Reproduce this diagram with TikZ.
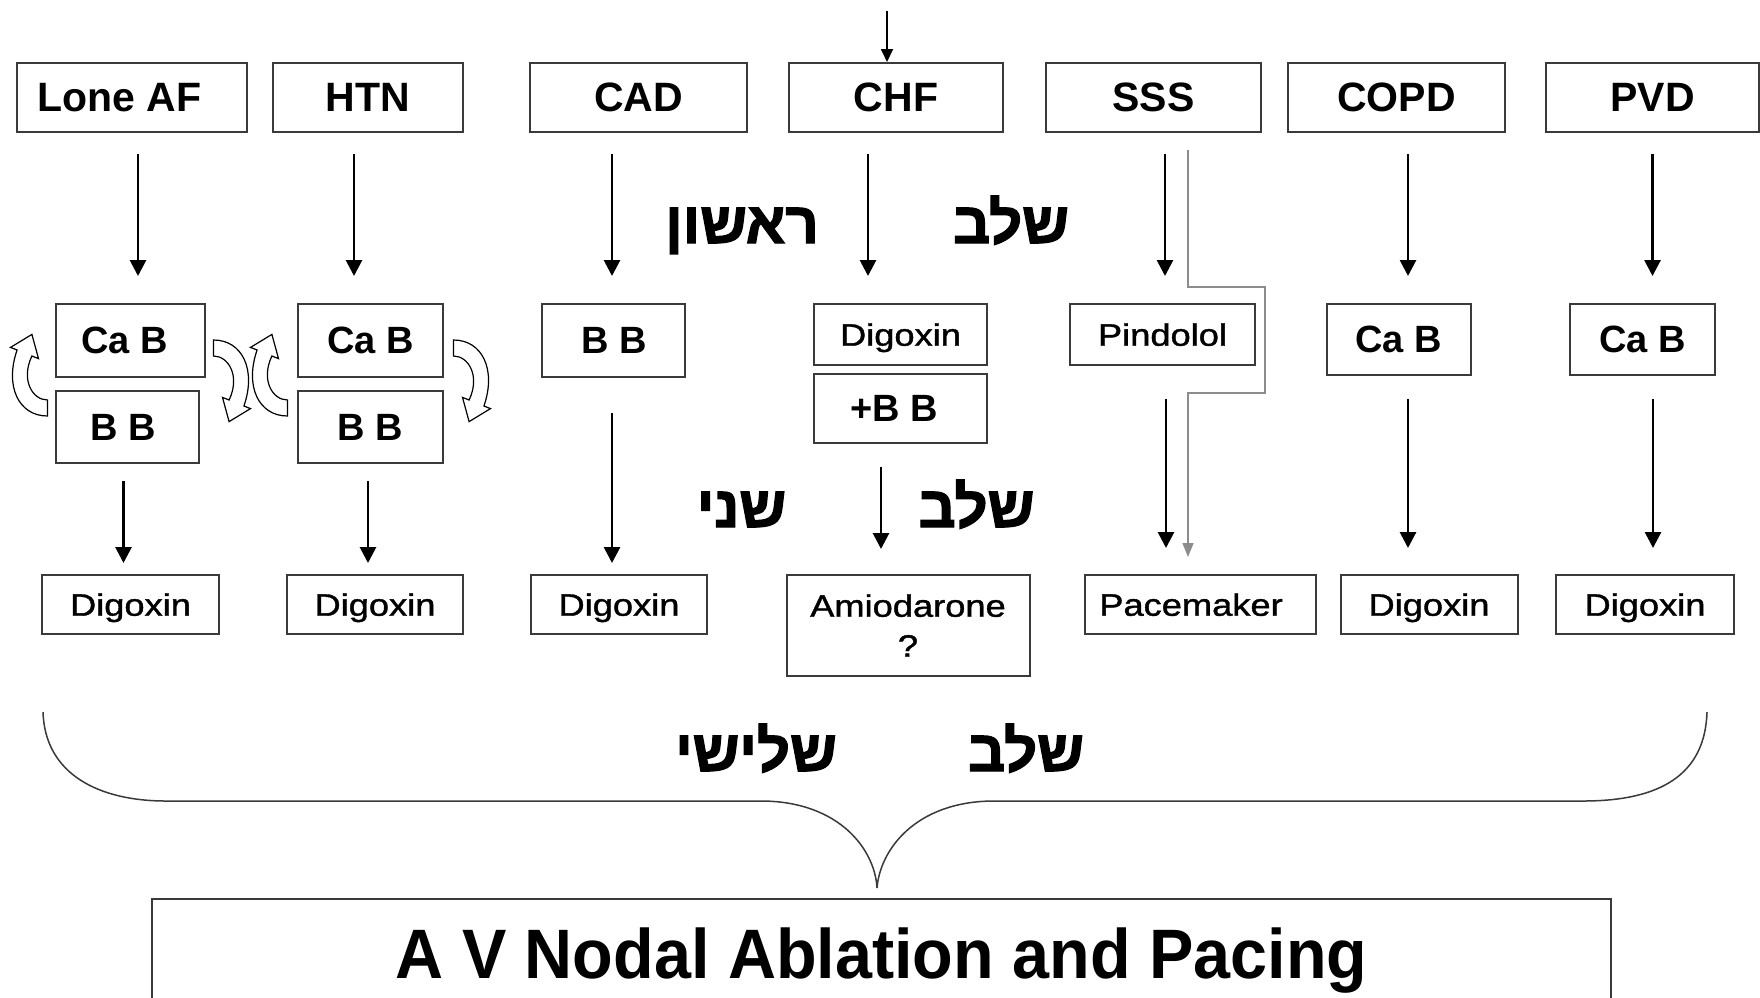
\documentclass[tikz,border=0pt]{standalone}
\usepackage{fontspec}
\setmainfont{Liberation Sans}
\newfontfamily\labelfont[FakeStretch=1.17, FakeBold=1.3]{Liberation Sans}
\newfontfamily\titlefont[FakeStretch=0.95]{Liberation Sans}
\newfontfamily\hebfont[Script=Hebrew, BoldFeatures={FakeBold=2.2}]{Liberation Sans}
\TeXXeTstate=1
\usetikzlibrary{arrows.meta}

\definecolor{boxgray}{HTML}{3A3A3A}
\definecolor{bypassgray}{HTML}{8C8C8C}

\tikzset{
  box/.style={draw=boxgray, line width=2pt, inner sep=0pt, text depth=0pt},
  topbox/.style={box, minimum height=69pt, font=\bfseries\fontsize{41}{48}\selectfont},
  drugbox/.style={box, font=\bfseries\fontsize{38}{44}\selectfont},
  smallbox/.style={box, font=\labelfont\fontsize{31}{40}\selectfont},
  heb/.style={anchor=base, inner sep=0pt, font=\hebfont\bfseries\fontsize{58}{64}\selectfont},
  arr/.style={-{Triangle[length=16pt,width=16pt]}, line width=2.8pt},
  turnarrow/.pic={
    \draw[line width=1.2pt, fill=white] (-83,22) -- (-83,38)
      .. controls (-112,38) and (-126,8) .. (-113.4,-28) -- (-120,-30.6)
      -- (-98.6,-43.6) -- (-92,-19.4) -- (-98.6,-22)
      .. controls (-110,2) and (-98,22) .. (-83,22) -- cycle;
  }
}

\begin{document}
\begin{tikzpicture}[x=1pt, y=-1pt]
  \useasboundingbox (0,0) rectangle (1760,997);
  \fill[white] (0,0) rectangle (1760,997);

  % diagnoses
  \node[topbox, minimum width=230pt] (lone) at (132,97.5) {Lone AF\hspace*{25pt}};
  \node[topbox, minimum width=190pt] (htn) at (368,97.5) {HTN};
  \node[topbox, minimum width=217pt] (cad) at (638.5,97.5) {CAD};
  \node[topbox, minimum width=214pt] (chf) at (896,97.5) {CHF};
  \node[topbox, minimum width=215pt] (sss) at (1153.5,97.5) {SSS};
  \node[topbox, minimum width=217pt] (copd) at (1396.5,97.5) {COPD};
  \node[topbox, minimum width=213pt] (pvd) at (1652.5,97.5) {PVD};

  % first line drugs
  \node[drugbox, minimum width=149pt, minimum height=73pt] (cab1) at (130.5,340.5) {Ca B\hspace*{12pt}};
  \node[drugbox, minimum width=143pt, minimum height=72pt] (bb1) at (127.5,427) {B B\hspace*{8pt}};
  \node[drugbox, minimum width=145pt, minimum height=73pt] (cab2) at (370.5,340.5) {Ca B};
  \node[drugbox, minimum width=145pt, minimum height=72pt] (bb2) at (370.5,427) {B B};
  \node[drugbox, minimum width=143pt, minimum height=73pt] (bb3) at (613.75,340.5) {B B};
  \node[smallbox, minimum width=173pt, minimum height=61pt] (dig4) at (900.5,334.5) {Digoxin};
  \node[drugbox, minimum width=173pt, minimum height=69pt] (plusbb) at (900.5,408.5) {+B B\hspace*{12pt}};
  \node[smallbox, minimum width=185pt, minimum height=61pt] (pind) at (1162.5,334.5) {Pindolol};
  \node[drugbox, minimum width=144pt, minimum height=71pt] (cab3) at (1398.6,339.5) {Ca B};
  \node[drugbox, minimum width=145pt, minimum height=71pt] (cab4) at (1642.5,339.5) {Ca B};

  % second line
  \node[smallbox, minimum width=177pt, minimum height=59pt] (dig1) at (130.5,604.5) {Digoxin};
  \node[smallbox, minimum width=176pt, minimum height=59pt] (dig2) at (375,604.5) {Digoxin};
  \node[smallbox, minimum width=176pt, minimum height=59pt] (dig3) at (619,604.5) {Digoxin};
  \node[smallbox, minimum width=243pt, minimum height=101pt, align=center] (amio) at (908,625.5) {Amiodarone\\?};
  \node[smallbox, minimum width=231pt, minimum height=59pt] (pace) at (1200,604.5) {Pacemaker\hspace*{18pt}};
  \node[smallbox, minimum width=177pt, minimum height=59pt] (dig6) at (1429,604.5) {Digoxin};
  \node[smallbox, minimum width=178pt, minimum height=59pt] (dig7) at (1645,604.5) {Digoxin};

  % last step
  \node[box, minimum width=1459pt, minimum height=108pt, anchor=north,
    font=\titlefont\bfseries\fontsize{70}{80}\selectfont] (avn) at (881.5,898) {A V Nodal Ablation and Pacing};

  % stages
  \node[heb] (first) at (742,243) {\beginR ראשון\endR};
  \node[heb] (stage1) at (1011,243) {\beginR שלב\endR};
  \node[heb] (second) at (741.5,527) {\beginR שני\endR};
  \node[heb] (stage2) at (976.5,527) {\beginR שלב\endR};
  \node[heb] (third) at (756,771) {\beginR שלישי\endR};
  \node[heb] (stage3) at (1026,771) {\beginR שלב\endR};

  % switching between Ca B and B B
  \pic at (cab1.south) {turnarrow};
  \pic[rotate=180] at (cab1.south) {turnarrow};
  \pic at (cab2.south) {turnarrow};
  \pic[rotate=180] at (cab2.south) {turnarrow};

  % arrows to first line
  \coordinate (chftop) at (887,11);
  \draw[arr, line width=1.8pt, -{Triangle[length=13pt,width=12pt]}] (chftop) -- (chftop |- chf.north);
  \draw[arr, shorten <=21pt, shorten >=27pt] ([xshift=6pt]lone.south) -- ([xshift=6pt]lone.south |- cab1.north);
  \draw[arr, shorten <=21pt, shorten >=27pt] ([xshift=-14pt]htn.south) -- ([xshift=-14pt]htn.south |- cab2.north);
  \draw[arr, shorten <=21pt, shorten >=27pt] ([xshift=-26.5pt]cad.south) -- ([xshift=-26.5pt]cad.south |- bb3.north);
  \draw[arr, shorten <=21pt, shorten >=27pt] ([xshift=-28pt]chf.south) -- ([xshift=-28pt]chf.south |- dig4.north);
  \draw[arr, shorten <=21pt, shorten >=27pt] ([xshift=11.5pt]sss.south) -- ([xshift=11.5pt]sss.south |- pind.north);
  \draw[arr, shorten <=21pt, shorten >=27pt] ([xshift=11.5pt]copd.south) -- ([xshift=11.5pt]copd.south |- cab3.north);
  \draw[arr, shorten <=21pt, shorten >=27pt] (pvd.south) -- (pvd.south |- cab4.north);

  % arrows to second line
  \draw[arr, shorten <=17pt, shorten >=11pt] ([xshift=-4pt]bb1.south) -- ([xshift=-4pt]bb1.south |- dig1.north);
  \draw[arr, shorten <=17pt, shorten >=11pt] ([xshift=-2.5pt]bb2.south) -- ([xshift=-2.5pt]bb2.south |- dig2.north);
  \draw[arr, shorten <=35pt, shorten >=11pt] ([xshift=-1.75pt]bb3.south) -- ([xshift=-1.75pt]bb3.south |- dig3.north);
  \draw[arr, shorten <=23pt, shorten >=25pt] ([xshift=-19.5pt]plusbb.south) -- ([xshift=-19.5pt]plusbb.south |- amio.north);
  \draw[arr, shorten <=33pt, shorten >=26pt] ([xshift=3.5pt]pind.south) -- ([xshift=3.5pt]pind.south |- pace.north);
  \draw[arr, shorten <=23pt, shorten >=26pt] ([xshift=9.4pt]cab3.south) -- ([xshift=9.4pt]cab3.south |- dig6.north);
  \draw[arr, shorten <=23pt, shorten >=26pt] ([xshift=10.5pt]cab4.south) -- ([xshift=10.5pt]cab4.south |- dig7.north);

  % SSS straight to pacemaker
  \coordinate (bp1) at (1188,150);
  \coordinate (bp2) at (1265,287);
  \coordinate (bp3) at (1188,393);
  \draw[bypassgray, line width=1.5pt, -{Triangle[length=14pt,width=11pt]}, shorten >=17pt]
    (bp1) |- (bp2) |- (bp3) -- (bp3 |- pace.north);

  % brace
  \draw[boxgray, line width=1.5pt] (43,712) .. controls (45,775) and (100,801) .. (166,801)
    -- (763,801) .. controls (840,802) and (875,850) .. (877,888)
    .. controls (880,850) and (915,802) .. (992,801)
    -- (1583,801) .. controls (1660,801) and (1705,775) .. (1707,712);
\end{tikzpicture}
\end{document}
